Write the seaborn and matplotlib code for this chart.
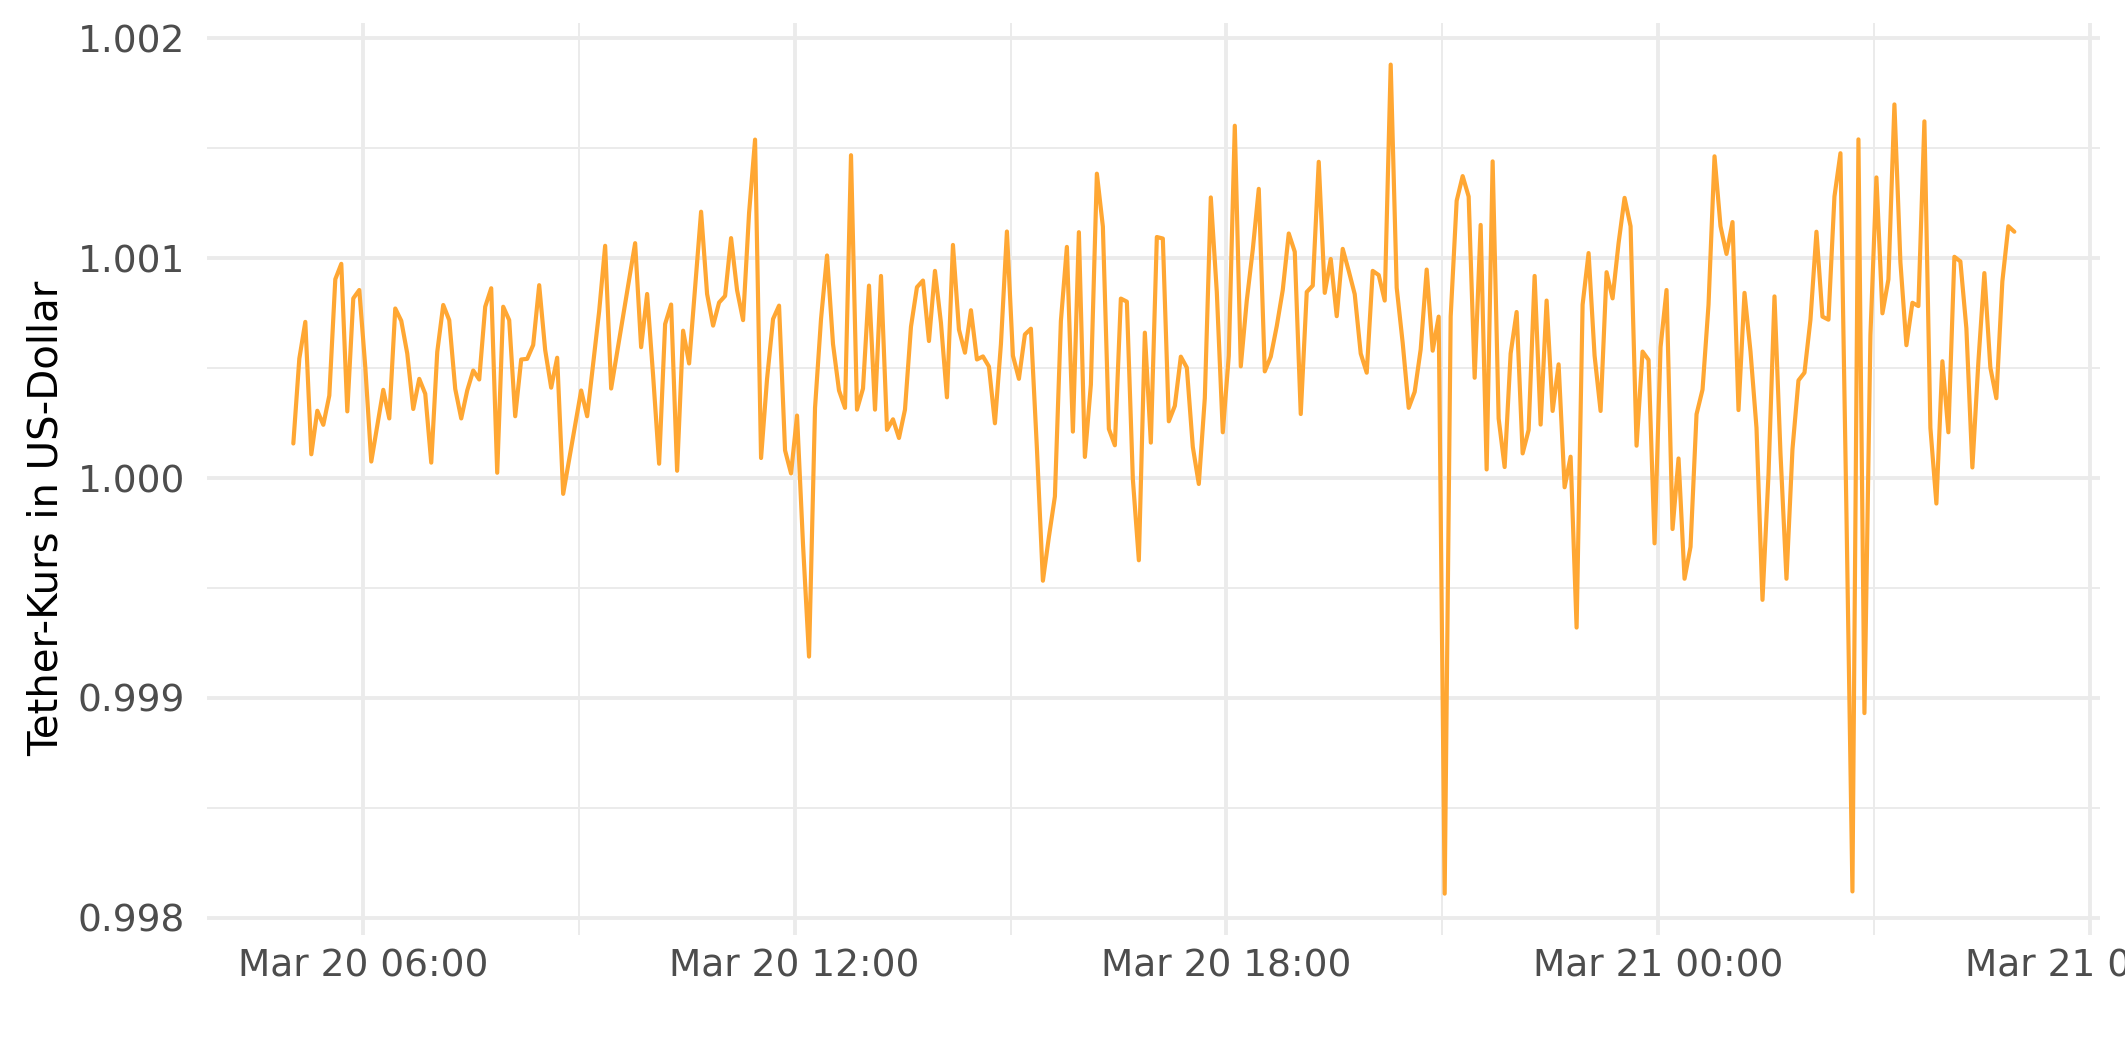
import numpy as np
import pandas as pd
import seaborn as sns
import matplotlib.pyplot as plt
import matplotlib.dates as mdates
from matplotlib.ticker import MultipleLocator

# Tether price in USD, 5-minute steps from Mar 20 05:02 to Mar 21 04:57
start_time = "2023-03-20 05:02"
step_minutes = 5

usdt_part1 = [
    1.000157, 1.000543, 1.000710, 1.000108, 1.000306, 1.000242, 1.000375, 1.000904,
    1.000974, 1.000303, 1.000817, 1.000855, 1.000505, 1.000075, 1.000238, 1.000401,
    1.000271, 1.000771, 1.000715, 1.000566, 1.000314, 1.000451, 1.000383, 1.000070,
    1.000573, 1.000787, 1.000718, 1.000405, 1.000271, 1.000398, 1.000489, 1.000448,
    1.000779, 1.000863, 1.000024, 1.000779, 1.000718,
]
usdt_part2 = [
    1.000281, 1.000539, 1.000542, 1.000605, 1.000877, 1.000582, 1.000411, 1.000547,
    0.999928, 1.000084, 1.000240, 1.000398, 1.000281, 1.000521, 1.000758, 1.001056,
    1.000407, 1.000572, 1.000737, 1.000904, 1.001068, 1.000595, 1.000837, 1.000465,
    1.000065, 1.000700, 1.000789, 1.000033, 1.000670, 1.000521, 1.000867, 1.001211,
    1.000837, 1.000693, 1.000798, 1.000828,
]
usdt_part3 = [
    1.001091, 1.000854, 1.000718, 1.001205, 1.001539, 1.000091, 1.000451, 1.000723,
    1.000784, 1.000126, 1.000021, 1.000284, 0.999696, 0.999188, 1.000319, 1.000723,
    1.001012, 1.000609, 1.000398, 1.000319, 1.001468, 1.000311, 1.000407, 1.000875,
    1.000311, 1.000919, 1.000219, 1.000267, 1.000182, 1.000311, 1.000688, 1.000868,
    1.000898, 1.000623, 1.000942, 1.000705, 1.000367,
]
usdt_part4 = [
    1.001060, 1.000675, 1.000570, 1.000763, 1.000539, 1.000553, 1.000507, 1.000249,
    1.000609, 1.001121, 1.000556, 1.000451, 1.000653, 1.000679, 1.000135, 0.999533,
    0.999732, 0.999916, 1.000714, 1.001051, 1.000211, 1.001118, 1.000096, 1.000425,
    1.001384, 1.001144, 1.000223, 1.000149, 1.000816, 1.000802, 0.999995, 0.999626,
    1.000661, 1.000161, 1.001096, 1.001089, 1.000258,
]
usdt_part5 = [
    1.000328, 1.000552, 1.000502, 1.000141, 0.999973, 1.000363, 1.001276, 1.000846,
    1.000208, 1.000556, 1.001602, 1.000508, 1.000807, 1.001039, 1.001315, 1.000485,
    1.000552, 1.000691, 1.000855, 1.001112, 1.001029, 1.000291, 1.000846, 1.000875,
    1.001438, 1.000842, 1.000996, 1.000736, 1.001042, 1.000942, 1.000836, 1.000566,
    1.000479, 1.000942, 1.000923, 1.000807, 1.001880,
]
usdt_part6 = [
    1.000865, 1.000614, 1.000319, 1.000392, 1.000585, 1.000948, 1.000579, 1.000734,
    0.998110, 1.000734, 1.001261, 1.001373, 1.001280, 1.000456, 1.001151, 1.000039,
    1.001440, 1.000270, 1.000050, 1.000566, 1.000755, 1.000112, 1.000218, 1.000919,
    1.000243, 1.000807, 1.000305, 1.000517, 0.999958, 1.000097, 0.999320, 1.000788,
    1.001023, 1.000556, 1.000305, 1.000936,
]
usdt_part7 = [
    1.000817, 1.001068, 1.001274, 1.001145, 1.000147, 1.000575, 1.000537, 0.999703,
    1.000595, 1.000855, 0.999768, 1.000089, 0.999542, 0.999687, 1.000290, 1.000402,
    1.000788, 1.001463, 1.001145, 1.001019, 1.001164, 1.000309, 1.000842, 1.000575,
    1.000228, 0.999446, 1.000015, 1.000826, 1.000112, 0.999542, 1.000131, 1.000444,
    1.000479, 1.000720, 1.001120, 1.000734, 1.000720,
]
usdt_part8 = [
    1.001280, 1.001477, 0.999840, 0.998120, 1.001540, 0.998931, 1.000650, 1.001367,
    1.000749, 1.000903, 1.001699, 1.000981, 1.000604, 1.000797, 1.000782, 1.001622,
    1.000228, 0.999884, 1.000531, 1.000208, 1.001006, 1.000985, 1.000681, 1.000048,
    1.000527, 1.000932, 1.000502, 1.000363, 1.000894, 1.001145, 1.001120,
]

prices = (usdt_part1 + usdt_part2 + usdt_part3 + usdt_part4
          + usdt_part5 + usdt_part6 + usdt_part7 + usdt_part8)
times = pd.date_range(start_time, periods=len(prices), freq=f"{step_minutes}min")
df = pd.DataFrame({"time": times, "price": prices})

sns.set_theme(style="white")
plt.rcParams["font.family"] = ["DejaVu Sans"]

fig = plt.figure(figsize=(10.625, 5.31), dpi=200)
ax = fig.add_axes([0.0974, 0.1196, 0.8906, 0.8587])

sns.lineplot(data=df, x="time", y="price", ax=ax, color="#ffa733", linewidth=1.5)

ax.set_xlim(pd.Timestamp("2023-03-20 03:50"), pd.Timestamp("2023-03-21 06:08"))
ax.set_ylim(0.997922, 1.002069)

ax.xaxis.set_major_locator(mdates.HourLocator(byhour=[0, 6, 12, 18]))
ax.xaxis.set_minor_locator(mdates.HourLocator(byhour=[3, 9, 15, 21]))
ax.xaxis.set_major_formatter(mdates.DateFormatter("%b %d %H:%M"))
ax.yaxis.set_major_locator(MultipleLocator(0.001))
ax.yaxis.set_minor_locator(MultipleLocator(0.0005))
ax.yaxis.set_major_formatter(plt.FuncFormatter(lambda v, p: f"{v:.3f}"))

ax.grid(which="major", color="#ebebeb", linewidth=1.4)
ax.grid(which="minor", color="#ebebeb", linewidth=0.7)
ax.set_axisbelow(True)
for s in ax.spines.values():
    s.set_visible(False)

ax.tick_params(axis="both", which="both", length=0, labelsize=13.5, labelcolor="#4d4d4d")
ax.tick_params(axis="y", pad=8)
ax.tick_params(axis="x", pad=5)
ax.set_xlabel("")
ax.set_ylabel("Tether-Kurs in US-Dollar", fontsize=14.5, color="black")
ax.yaxis.set_label_coords(-0.074, 0.457)

fig.savefig("out.png", dpi=200)
